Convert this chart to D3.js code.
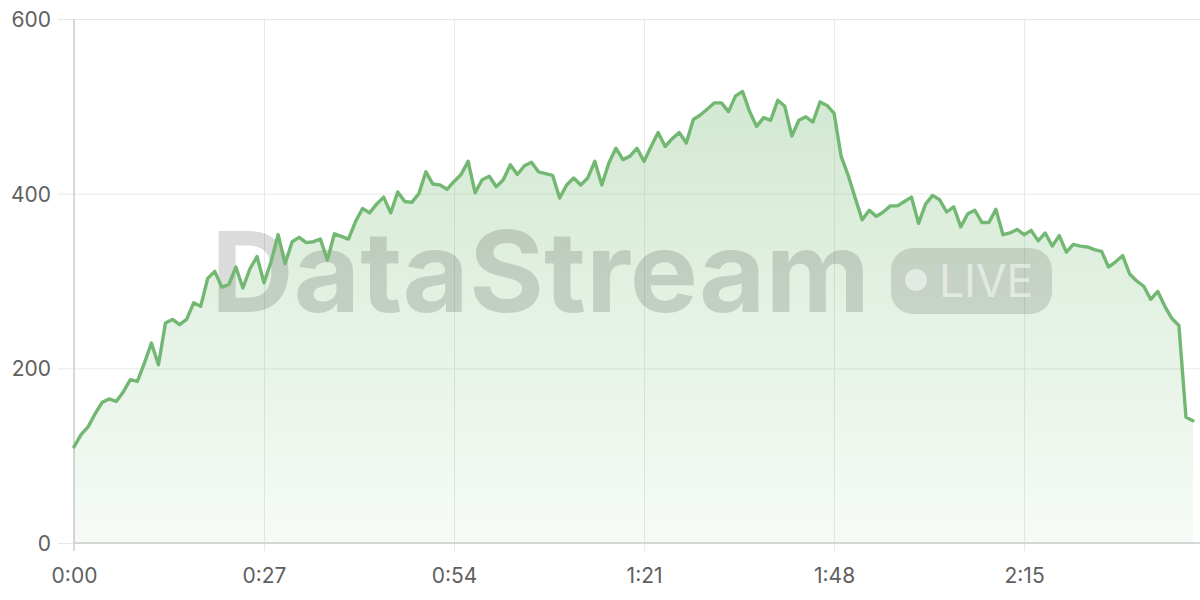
<!DOCTYPE html>
<html>
<head>
<meta charset="utf-8">
<script src="https://cdn.jsdelivr.net/npm/d3@7"></script>
<style>
  html, body { margin: 0; padding: 0; background: #ffffff; }
  svg { display: block; }
</style>
</head>
<body>
<svg id="chart" width="1200" height="600"></svg>
<script>
// ---- data: one sample per second ----
const sampleStepSeconds = 1;
const values = [
  110,124,133,148,161,165,162,173,187,185,206,229,204,252,256,250,256,275,271,303,311,
  293,296,316,292,314,328,298,322,353,320,345,350,344,345,348,324,354,351,348,
  368,383,378,388,396,378,402,391,390,400,425,411,410,405,414,422,437,401,416,420,408,
  416,433,422,432,436,425,423,421,395,410,418,410,418,437,410,435,452,439,443,452,
  437,454,470,454,463,470,458,485,490,497,504,504,494,512,517,494,477,487,484,507,
  500,466,484,488,482,505,501,492,443,421,395,370,381,374,379,386,386,391,396,366,
  388,398,393,379,385,362,377,381,367,367,382,353,355,359,353,358,346,355,340,352,
  333,342,340,339,336,334,316,322,329,308,300,294,279,288,271,257,249,144,140
];
const xTickSeconds = [0, 27, 54, 81, 108, 135];
const yTicks = [0, 200, 400, 600];
const watermarkText = "DataStream";
const badgeText = "LIVE";

// ---- layout ----
const W = 1200, H = 600;
const mLeft = 74, mRight = 1193, mTop = 19, mBottom = 543;
const lineColor = "#72b872";
const fontFam = "Inter, 'Liberation Sans', Arial, sans-serif";

const data = values.map((v, i) => ({ t: i * sampleStepSeconds, v }));

const x = d3.scaleLinear().domain([0, (values.length - 1) * sampleStepSeconds]).range([mLeft, mRight]);
const y = d3.scaleLinear().domain([0, 600]).range([mBottom, mTop]);

const fmt = s => Math.floor(s / 60) + ":" + String(s % 60).padStart(2, "0");

const svg = d3.select("#chart");

// gradient
const defs = svg.append("defs");
const grad = defs.append("linearGradient").attr("id", "areaGrad")
  .attr("gradientUnits", "userSpaceOnUse")
  .attr("x1", 0).attr("x2", 0).attr("y1", mTop).attr("y2", mBottom);
grad.append("stop").attr("offset", "0%").attr("stop-color", lineColor).attr("stop-opacity", 0.36);
grad.append("stop").attr("offset", "100%").attr("stop-color", lineColor).attr("stop-opacity", 0.06);

// horizontal grid + y axis
const yAxis = d3.axisLeft(y).tickValues(yTicks).tickSize(16).tickPadding(7);
const gy = svg.append("g").attr("transform", `translate(${mLeft},0)`).call(yAxis);
gy.select(".domain").remove();
gy.selectAll(".tick line").attr("stroke", "#e8e8e8").attr("stroke-width", 1)
  .attr("x1", -16).attr("x2", W - mLeft);
gy.selectAll(".tick text").attr("fill", "#606060").attr("font-family", fontFam)
  .attr("font-size", 21).attr("dy", "0.36em");

// vertical grid + x axis
const xAxis = d3.axisBottom(x).tickValues(xTickSeconds).tickFormat(fmt).tickSize(8).tickPadding(17);
const gx = svg.append("g").attr("transform", `translate(0,${mBottom})`).call(xAxis);
gx.select(".domain").remove();
gx.selectAll(".tick line").attr("stroke", "#e8e8e8").attr("stroke-width", 1)
  .attr("y1", mTop - mBottom).attr("y2", 8);
gx.selectAll(".tick text").attr("fill", "#606060").attr("font-family", fontFam)
  .attr("font-size", 21);

// axis lines
svg.append("line").attr("x1", mLeft).attr("x2", mLeft).attr("y1", mTop).attr("y2", mBottom + 8)
  .attr("stroke", "#cfcfcf").attr("stroke-width", 1.5);
svg.append("line").attr("x1", mLeft).attr("x2", W).attr("y1", mBottom).attr("y2", mBottom)
  .attr("stroke", "#cfcfcf").attr("stroke-width", 1.5);

// area
const area = d3.area().x(d => x(d.t)).y0(y(0)).y1(d => y(d.v));
svg.append("path").datum(data).attr("d", area).attr("fill", "url(#areaGrad)");

// watermark
const wm = svg.append("g").attr("pointer-events", "none");
wm.append("text").text(watermarkText)
  .attr("x", 211).attr("y", 312)
  .attr("font-family", fontFam).attr("font-weight", "bold").attr("font-size", 112)
  .attr("textLength", 659).attr("lengthAdjust", "spacingAndGlyphs")
  .attr("fill", "#000").attr("fill-opacity", 0.14);
wm.append("rect").attr("x", 891).attr("y", 248).attr("width", 161).attr("height", 66).attr("rx", 22)
  .attr("fill", "#000").attr("fill-opacity", 0.12);
wm.append("circle").attr("cx", 916).attr("cy", 280).attr("r", 11)
  .attr("fill", "#fff").attr("fill-opacity", 0.5);
wm.append("text").text(badgeText)
  .attr("x", 939).attr("y", 297)
  .attr("font-family", fontFam).attr("font-size", 45)
  .attr("textLength", 94).attr("lengthAdjust", "spacingAndGlyphs")
  .attr("fill", "#fff").attr("fill-opacity", 0.5);

// line
const line = d3.line().x(d => x(d.t)).y(d => y(d.v));
svg.append("path").datum(data).attr("d", line)
  .attr("fill", "none").attr("stroke", lineColor).attr("stroke-width", 3.4)
  .attr("stroke-linejoin", "round").attr("stroke-linecap", "round");
</script>
</body>
</html>
